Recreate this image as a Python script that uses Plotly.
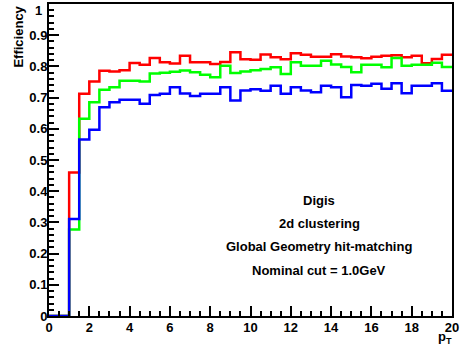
import numpy as np
import plotly.graph_objects as go

# bin edges: 40 bins of 0.5 GeV from 0 to 20
bin_edges = np.linspace(0, 20, 41)

red_eff = [0, 0, 0.460, 0.712, 0.752, 0.786, 0.784, 0.788, 0.811, 0.805,
           0.827, 0.813, 0.809, 0.834, 0.813, 0.813, 0.808, 0.814, 0.845, 0.823,
           0.821, 0.838, 0.829, 0.823, 0.842, 0.837, 0.831, 0.831, 0.839, 0.832,
           0.829, 0.826, 0.831, 0.834, 0.836, 0.829, 0.834, 0.810, 0.824, 0.837]
green_eff = [0, 0, 0.277, 0.632, 0.685, 0.725, 0.733, 0.754, 0.754, 0.752,
             0.777, 0.780, 0.783, 0.787, 0.781, 0.773, 0.765, 0.802, 0.779, 0.784,
             0.788, 0.792, 0.797, 0.776, 0.813, 0.802, 0.802, 0.818, 0.806, 0.798,
             0.781, 0.805, 0.805, 0.797, 0.827, 0.802, 0.805, 0.805, 0.812, 0.798]
blue_eff = [0, 0, 0.311, 0.566, 0.597, 0.669, 0.685, 0.693, 0.693, 0.680,
            0.708, 0.712, 0.733, 0.713, 0.705, 0.712, 0.712, 0.733, 0.691, 0.723,
            0.727, 0.722, 0.738, 0.712, 0.733, 0.723, 0.717, 0.738, 0.733, 0.701,
            0.740, 0.738, 0.744, 0.728, 0.746, 0.714, 0.738, 0.738, 0.746, 0.722]

x_ticks = [0, 2, 4, 6, 8, 10, 12, 14, 16, 18, 20]
y_ticks = [0, 0.1, 0.2, 0.3, 0.4, 0.5, 0.6, 0.7, 0.8, 0.9, 1]
y_tick_labels = ["0", "0.1", "0.2", "0.3", "0.4", "0.5", "0.6", "0.7", "0.8", "0.9", "1"]

info_lines = ["Digis", "2d clustering", "Global Geometry hit-matching", "Nominal cut = 1.0GeV"]
info_y = [0.371, 0.298, 0.222, 0.146]

FONT = "Liberation Sans, Arial, Helvetica, sans-serif"
tfont = dict(family=FONT, size=13, color="black", weight="bold")

fig = go.Figure()
for vals, col in [(red_eff, "#ff0000"), (green_eff, "#00ff00"), (blue_eff, "#0000ff")]:
    fig.add_trace(go.Scatter(
        x=list(bin_edges), y=list(vals) + [vals[-1]],
        mode="lines", line=dict(color=col, width=2.5, shape="hv"),
        showlegend=False, hoverinfo="skip"))

for txt, yy in zip(info_lines, info_y):
    fig.add_annotation(x=13.4, y=yy, xref="x", yref="y", text=txt, showarrow=False,
                       font=tfont, xanchor="center", yanchor="middle")

fig.add_annotation(x=-0.078, y=1.0, xref="paper", yref="paper", text="Efficiency",
                   textangle=-90, showarrow=False, xanchor="center", yanchor="top",
                   font=tfont)
fig.add_annotation(x=0.983, y=-0.068, xref="paper", yref="paper", text="p<sub>T</sub>",
                   showarrow=False, xanchor="center", yanchor="middle", font=tfont)
# top y tick label, nudged down inside the page as in the original
fig.add_annotation(x=-0.012, y=1.0, xref="paper", yref="paper", text=y_tick_labels[-1],
                   showarrow=False, xanchor="right", yanchor="top", yshift=3, font=tfont)

fig.update_xaxes(range=[0, 20], tickvals=x_ticks, ticktext=[str(v) for v in x_ticks],
                 ticks="inside", ticklen=10, tickwidth=2, tickcolor="black",
                 minor=dict(ticks="inside", dtick=0.5, ticklen=5, tickwidth=2, tickcolor="black"),
                 showline=True, linecolor="black", linewidth=2, mirror=True,
                 showgrid=False, zeroline=False, automargin=False,
                 ticklabelstandoff=-2, tickfont=tfont)
fig.update_yaxes(range=[0, 1], tickvals=y_ticks, ticktext=y_tick_labels[:-1] + [""],
                 ticks="inside", ticklen=10, tickwidth=2, tickcolor="black",
                 minor=dict(ticks="inside", dtick=0.02, ticklen=5, tickwidth=2, tickcolor="black"),
                 showline=True, linecolor="black", linewidth=2, mirror=True,
                 showgrid=False, zeroline=False, automargin=False,
                 ticklabelstandoff=-3, tickfont=tfont)

fig.update_layout(width=460, height=347, margin=dict(l=49, r=8, t=4, b=31),
                  plot_bgcolor="white", paper_bgcolor="white")
fig.write_html("out.html", config={"displayModeBar": False},
               post_script="document.body.style.margin='0px';")
